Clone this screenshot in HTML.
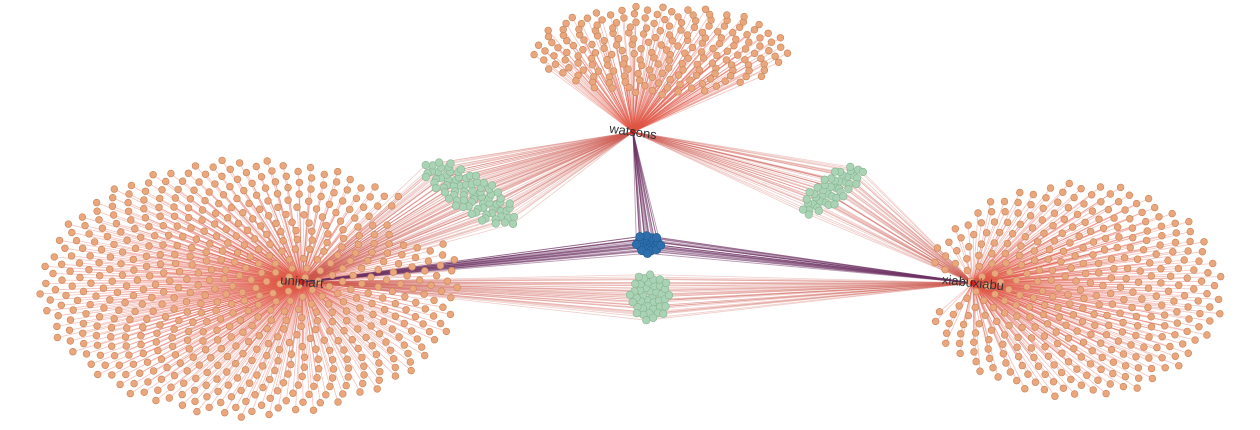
<!DOCTYPE html>
<html><head><meta charset="utf-8"><style>
html,body{margin:0;padding:0;background:#fff;width:1260px;height:430px;overflow:hidden}
svg{display:block}
text{font-family:"Liberation Sans",sans-serif}
</style></head><body>
<svg id="g" width="1260" height="430">
<g id="edges"></g>
<g id="nodes"></g>
<g id="labels"></g>
</svg>
<script>
// data
const hubNames = ["watsons","unimart","xiabuxiabu"];
const hubX = [633,302,973];
const hubY = [132,282,283];
const labelAngle = [8,5,6];
// clusters: which hubs each cluster links to, and how many nodes
const clusterHubs = [[0],[1],[2],[0,1],[0,2],[1,2],[0,1,2]];
const clusterSizes = [200,620,360,80,45,42,22];
const clusterType = ["leaf","leaf","leaf","shared2","shared2","shared2","shared3"];
// layout geometry (not data)
const geo = [
 {cx:660,cy:50,rx:128,ry:45,rot:0,notch:null},
 {cx:250,cy:288,rx:215,ry:132,rot:0,notch:[-42,-22,0.8]},
 {cx:1075,cy:290,rx:152,ry:110,rot:0,notch:[172,192,0.75]},
 {cx:470,cy:193,rx:55,ry:19,rot:32,notch:null},
 {cx:832,cy:190,rx:38,ry:14,rot:-36,notch:null},
 {cx:650,cy:297,rx:21,ry:24,rot:0,notch:null},
 {cx:648,cy:244,rx:13,ry:10,rot:0,notch:null}
];
const fill={leaf:"#eaa67c",shared2:"#a9d3b4",shared3:"#2d6fad"};
const strokeC={leaf:"#c98558",shared2:"#86b592",shared3:"#215a8f"};
const edgeC={leaf:"rgba(225,85,70,0.36)",shared2:"rgba(205,90,80,0.3)",shared3:"rgba(110,50,100,0.5)"};
const NS="http://www.w3.org/2000/svg";
const E=document.getElementById('edges'),N=document.getElementById('nodes'),L=document.getElementById('labels');
function place(c,n){
  const pts=[];const g=geo[c];const a=g.rot*Math.PI/180;
  const m = g.notch? Math.round(n*1.06): n;
  for(let i=0;i<m && pts.length<n;i++){
    const r=Math.sqrt((i+0.5)/m), t=i*2.399963;
    let deg=((t*180/Math.PI)%360+360)%360; if(deg>180)deg-=360;
    if(g.notch){let d=deg; if(g.notch[1]>180&&d<0)d+=360;
      if(d>g.notch[0]&&d<g.notch[1]&&r>g.notch[2])continue;}
    const x=g.rx*r*Math.cos(t), y=g.ry*r*Math.sin(t);
    pts.push([g.cx+x*Math.cos(a)-y*Math.sin(a), g.cy+x*Math.sin(a)+y*Math.cos(a)]);
  }
  return pts;
}
clusterSizes.forEach((n,c)=>{
  const t=clusterType[c];const pts=place(c,n);
  pts.forEach(p=>{
    clusterHubs[c].forEach(h=>{
      const l=document.createElementNS(NS,'line');
      
      
      l.setAttribute('x1',hubX[h]);l.setAttribute('y1',hubY[h]);
      l.setAttribute('x2',p[0].toFixed(1));l.setAttribute('y2',p[1].toFixed(1));
      l.setAttribute('stroke',edgeC[t]);l.setAttribute('stroke-width',t==='shared3'?0.9:0.8);
      E.appendChild(l);
    });
    const ci=document.createElementNS(NS,'circle');
    
    
    ci.setAttribute('cx',p[0].toFixed(1));ci.setAttribute('cy',p[1].toFixed(1));
    ci.setAttribute('r',t==='leaf'?3.4:(t==='shared3'?4.2:3.8));
    ci.setAttribute('fill',fill[t]);ci.setAttribute('stroke',strokeC[t]);ci.setAttribute('stroke-width',0.6);
    N.appendChild(ci);
  });
});
hubNames.forEach((nm,h)=>{
  const ci=document.createElementNS(NS,'circle');
  
  
  ci.setAttribute('cx',hubX[h]);ci.setAttribute('cy',hubY[h]);ci.setAttribute('r',3);
  ci.setAttribute('fill','#d42020');
  L.appendChild(ci);
  const tx=document.createElementNS(NS,'text');
  
  
  tx.setAttribute('x',hubX[h]);tx.setAttribute('y',hubY[h]+4);
  tx.setAttribute('text-anchor','middle');tx.setAttribute('font-size','13');
  tx.setAttribute('fill','#333');
  tx.setAttribute('transform','rotate('+labelAngle[h]+' '+hubX[h]+' '+hubY[h]+')');
  tx.textContent=nm;L.appendChild(tx);
});
</script>
</body></html>
